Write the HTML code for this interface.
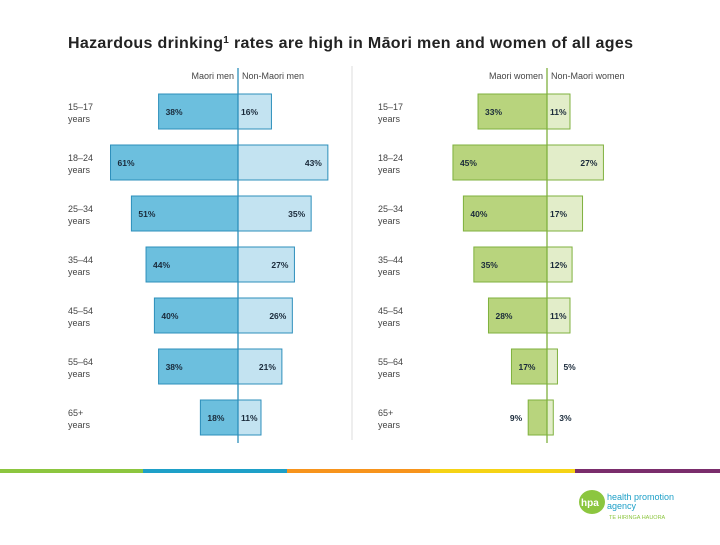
<!DOCTYPE html>
<html><head><meta charset="utf-8"><style>
body{margin:0;width:720px;height:540px;background:#fff;overflow:hidden;font-family:"Liberation Sans",sans-serif}
svg text{font-family:"Liberation Sans",sans-serif}
</style></head><body>
<svg id="c" width="720" height="540">
<text x="68" y="48" font-size="16" font-weight="bold" fill="#222" textLength="565">Hazardous drinking<tspan font-size="10" dy="-5">1</tspan><tspan dy="5"> rates are high in Māori men and women of all ages</tspan></text>
<line x1="352" y1="66" x2="352" y2="440" stroke="#ddd"/>
<g id="bars"></g>
<g>
<rect x="0" y="469" width="143" height="4" fill="#8cc63f"/>
<rect x="143" y="469" width="144" height="4" fill="#1ea0c8"/>
<rect x="287" y="469" width="143" height="4" fill="#f7941d"/>
<rect x="430" y="469" width="145" height="4" fill="#f5d316"/>
<rect x="575" y="469" width="145" height="4" fill="#7a2d6c"/>
</g>
<g>
<ellipse cx="592" cy="502" rx="13" ry="12" fill="#8cc63f"/>
<text x="581" y="506" font-size="10" fill="#fff" font-weight="bold">hpa</text>
<text x="607" y="500" font-size="9" fill="#1ea0c8">health promotion</text>
<text x="607" y="509" font-size="9" fill="#1ea0c8">agency</text>
<text x="609" y="519" font-size="5.5" fill="#8cc63f">TE HIRINGA HAUORA</text>
</g>
</svg>
<script>
const ages=["15–17","18–24","25–34","35–44","45–54","55–64","65+"];
const maoriMen=[38,61,51,44,40,38,18];
const nonMaoriMen=[16,43,35,27,26,21,11];
const maoriWomen=[33,45,40,35,28,17,9];
const nonMaoriWomen=[11,27,17,12,11,5,3];
const NS="http://www.w3.org/2000/svg";
const g=document.getElementById('bars');
const k=2.09, y0=94, step=51, bh=35;
function y(i){return y0+i*step;}
function el(t,a,txt){const e=document.createElementNS(NS,t);for(const n in a)e.setAttribute(n,a[n]);if(txt!=null)e.textContent=txt;g.appendChild(e);return e;}
function panel(ax,labelX,left,right,c1,c2,stroke,h1,h2,pre){
  let t=el('text',{x:ax-4,y:79,'font-size':9,'text-anchor':'end',fill:'#444'},h1);
  
  t=el('text',{x:ax+4,y:79,'font-size':9,fill:'#444'},h2);
  
  ages.forEach((a,i)=>{
    const yy=y(i);
    let l=el('text',{x:labelX,y:yy+16,'font-size':9,fill:'#444'},a);
    
    l=el('text',{x:labelX,y:yy+28,'font-size':9,fill:'#444'},'years');
    
    const wl=left[i]*k, wr=right[i]*k;
    let r=el('rect',{x:ax-wl,y:yy,width:wl,height:bh,fill:c1,stroke:stroke,'stroke-width':1});
    
    r=el('rect',{x:ax,y:yy,width:wr,height:bh,fill:c2,stroke:stroke,'stroke-width':1});
    
    let tx=wl<20?ax-wl-6:ax-wl+7, anc=wl<20?'end':'start';
    let v=el('text',{x:tx,y:yy+21,'font-size':8.5,'font-weight':'bold',fill:'#1a2a3a','text-anchor':anc},left[i]+'%');
    
    let tx2, anc2;
    if(wr<20){tx2=ax+wr+6;anc2='start';}
    else if(wr<40){tx2=ax+3;anc2='start';}
    else {tx2=ax+wr-6;anc2='end';}
    v=el('text',{x:tx2,y:yy+21,'font-size':8.5,'font-weight':'bold',fill:'#1a2a3a','text-anchor':anc2},right[i]+'%');
    
  });
  const ln=el('line',{x1:ax,y1:68,x2:ax,y2:443,stroke:stroke,'stroke-width':1.3});
  
}
panel(238,68,maoriMen,nonMaoriMen,'#6cbfde','#c3e3f1','#2d8fbb','Maori men','Non-Maori men','men');
panel(547,378,maoriWomen,nonMaoriWomen,'#b8d47d','#e2edc9','#7fb13e','Maori women','Non-Maori women','women');
</script>
</body></html>
